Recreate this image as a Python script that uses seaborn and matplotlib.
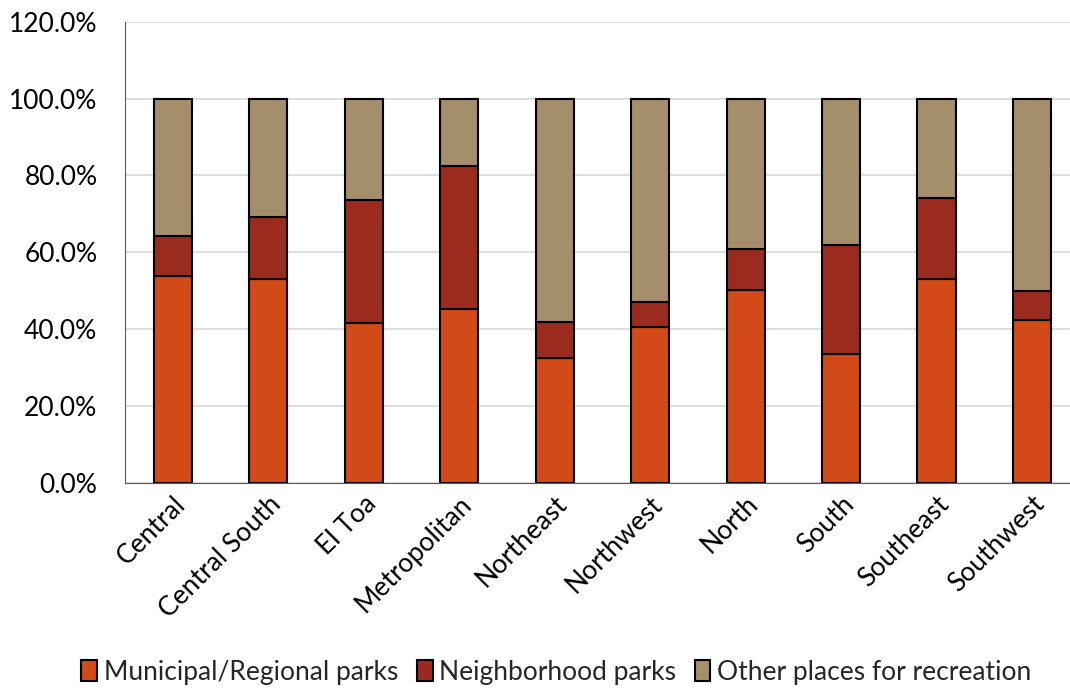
import matplotlib
matplotlib.use("Agg")
import numpy as np
import pandas as pd
import matplotlib.pyplot as plt
import seaborn as sns
from matplotlib.ticker import FuncFormatter
from matplotlib.patches import Patch

# data (percent)
regions = ["Central", "Central South", "El Toa", "Metropolitan", "Northeast",
           "Northwest", "North", "South", "Southeast", "Southwest"]
municipal = [53.8, 53.0, 41.6, 45.3, 32.6, 40.6, 50.1, 33.6, 53.0, 42.5]
neighborhood = [10.4, 16.3, 32.0, 37.1, 9.4, 6.5, 10.8, 28.4, 21.1, 7.5]
other = [100 - m - n for m, n in zip(municipal, neighborhood)]

series_names = ["Municipal/Regional parks", "Neighborhood parks", "Other places for recreation"]
colors = ["#D24A18", "#9B2B1F", "#A58E6B"]

sns.set_style("white")
plt.rcParams['font.family'] = ['Lato', 'DejaVu Sans']

fig = plt.figure(figsize=(10.7, 7), dpi=100)
ax = fig.add_axes([0.117, 0.31, 0.885, 0.659])

df = pd.DataFrame({"region": regions, "m": municipal, "n": neighborhood, "o": other})
bottom = np.zeros(len(regions))
for col, name, c in zip(["m", "n", "o"], series_names, colors):
    sns.barplot(data=df, x="region", y=col, color=c, width=0.4, bottom=bottom,
                edgecolor="black", linewidth=1.5, ax=ax, saturation=1)
    bottom = bottom + df[col].values

ax.set_ylim(0, 120)
ax.set_yticks(np.arange(0, 121, 20))
ax.yaxis.set_major_formatter(FuncFormatter(lambda v, p: f"{v:.1f}%"))
ax.set_xlim(-0.5, 9.42)
ax.set_xlabel("")
ax.set_ylabel("")
ax.grid(axis="y", color="#D9D9D9", linewidth=1.2)
ax.set_axisbelow(True)
for s in ["top", "right"]:
    ax.spines[s].set_visible(False)
ax.spines["left"].set_color("#595959")
ax.spines["bottom"].set_color("#595959")
ax.tick_params(axis="both", length=0, labelsize=19, colors="black")
ax.tick_params(axis="y", pad=20)
ax.tick_params(axis="x", pad=6)
plt.setp(ax.get_xticklabels(), rotation=45, ha="right", rotation_mode="anchor")

handles = [Patch(facecolor=c, edgecolor="black", linewidth=1.5) for c in colors]
fig.legend(handles, series_names, loc="lower center", bbox_to_anchor=(0.52, -0.012),
           ncol=3, frameon=False, fontsize=19, handlelength=0.6, handleheight=0.8,
           handletextpad=0.25, columnspacing=0.7)

fig.savefig("out.png", dpi=100)
